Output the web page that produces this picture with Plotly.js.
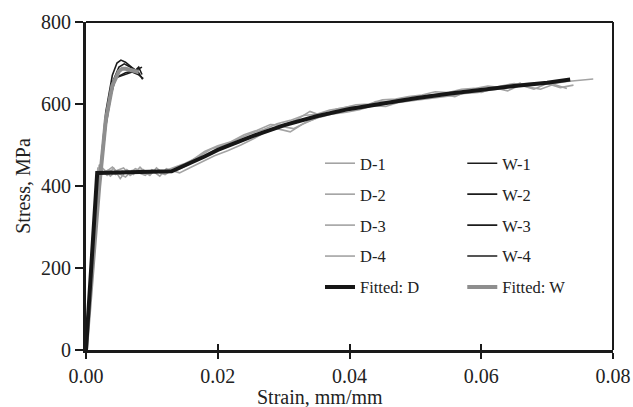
<!DOCTYPE html>
<html>
<head>
<meta charset="utf-8">
<script src="https://cdn.plot.ly/plotly-3.0.1.min.js"></script>
<style>html,body{margin:0;padding:0;background:#fff;}#chart{width:633px;height:407px;}</style>
</head>
<body>
<div id="chart"></div>
<script>
// ---- Data (strain in mm/mm, stress in MPa) ----
const d1Strain = [0,0.0010,0.0018,0.0025,0.0035,0.0045,0.0055,0.0065,0.0075,0.0085,0.0095,0.0105,0.0115,0.0125,0.0135,0.015,0.017,0.019,0.021,0.023,0.025,0.027,0.029,0.031,0.033,0.035,0.037,0.039,0.041,0.043,0.045,0.047,0.049,0.051,0.053,0.055,0.057,0.059,0.061,0.063,0.065,0.067,0.069,0.071,0.073,0.075,0.077];
const d1Stress = [0,220,445,432,440,428,436,430,442,434,428,438,432,440,446,455,470,490,500,515,528,538,552,560,572,575,585,590,598,600,610,612,618,622,630,628,636,638,644,640,648,650,652,650,655,658,661];
const d2Strain = [0,0.0009,0.0017,0.0024,0.0032,0.0042,0.0052,0.0062,0.0072,0.0082,0.0092,0.0102,0.0112,0.0122,0.0132,0.0145,0.016,0.018,0.020,0.022,0.024,0.026,0.028,0.030,0.032,0.034,0.036,0.038,0.040,0.042,0.044,0.046,0.048,0.050,0.052,0.054,0.056,0.058,0.060,0.062,0.064,0.066,0.068,0.070,0.072,0.074];
const d2Stress = [0,190,420,438,426,444,418,440,428,446,430,436,424,442,436,448,462,484,498,508,525,536,550,548,562,582,570,588,594,590,606,604,614,610,622,624,618,632,628,640,632,646,636,650,640,646];
const d3Strain = [0,0.0010,0.0020,0.0027,0.0037,0.0047,0.0057,0.0067,0.0077,0.0087,0.0097,0.0107,0.0117,0.0127,0.014,0.0155,0.017,0.019,0.021,0.023,0.025,0.027,0.029,0.031,0.033,0.035,0.037,0.039,0.041,0.043,0.045,0.047,0.049,0.051,0.053,0.055,0.057,0.059,0.061,0.063,0.065,0.067,0.069,0.071,0.073];
const d3Stress = [0,205,452,440,424,438,444,426,436,440,426,444,430,436,440,452,466,478,496,504,520,530,540,532,552,566,578,584,590,598,600,608,610,616,620,626,630,632,636,644,650,642,636,648,638];
const d4Strain = [0,0.0011,0.0021,0.0030,0.0040,0.0050,0.0060,0.0070,0.0080,0.0090,0.0100,0.0110,0.0120,0.0130,0.0142,0.0157,0.0175,0.0195,0.0215,0.0235,0.0255,0.0275,0.0295,0.0315,0.0335,0.0355,0.0375,0.0395,0.0415,0.0435,0.0455,0.0475,0.0495,0.0515,0.0535,0.0555,0.0575,0.0595,0.0615,0.0635,0.0655,0.066];
const d4Stress = [0,215,428,434,446,430,422,438,432,426,440,434,428,438,432,444,458,474,486,500,516,534,546,540,556,568,576,580,586,596,594,604,608,612,616,620,626,628,634,638,648,652];

const w1Strain = [0,0.0010,0.0020,0.0030,0.0040,0.0047,0.0053,0.0060,0.0068,0.0075,0.0080,0.0085];
const w1Stress = [0,200,410,580,670,700,707,702,692,682,690,672];
const w2Strain = [0,0.0010,0.0020,0.0030,0.0040,0.0050,0.0058,0.0065,0.0072,0.0080,0.0086];
const w2Stress = [0,198,400,562,652,690,698,692,686,676,660];
const w3Strain = [0,0.0010,0.0020,0.0030,0.0038,0.0045,0.0052,0.0060,0.0070,0.0078,0.0085];
const w3Stress = [0,195,392,545,622,664,670,676,680,684,690];
const w4Strain = [0,0.0010,0.0020,0.0030,0.0040,0.0045,0.0050,0.0060,0.0070,0.0080,0.0087];
const w4Stress = [0,200,396,556,642,664,667,672,678,671,662];

const fitDStrain = [0,0.0017,0.013,0.015,0.018,0.020,0.025,0.030,0.035,0.040,0.045,0.050,0.055,0.060,0.065,0.070,0.0735];
const fitDStress = [0,432,436,450,472,488,520,548,570,588,602,614,625,635,644,652,660];
const fitWStrain = [0,0.0010,0.0020,0.0030,0.0040,0.0050,0.0055,0.0060,0.0070,0.0080];
const fitWStress = [0,198,398,560,645,680,686,686,682,678];

const xTickVals = [0,0.02,0.04,0.06,0.08];
const xTickText = ['0.00','0.02','0.04','0.06','0.08'];
const yTickVals = [0,200,400,600,800];

// ---- Styles ----
const grayD = '#a3a3a3';
const blackW = '#1c1c1c';
const font = 'Liberation Serif, Times New Roman, serif';

function tr(name, x, y, color, width, legend, group) {
  return {x: x, y: y, name: name, type: 'scatter', mode: 'lines',
    line: {color: color, width: width}, legend: legend, legendgroup: group};
}

const traces = [
  tr('D-1', d1Strain, d1Stress, grayD, 1.6, 'legend', 'g1'),
  tr('D-2', d2Strain, d2Stress, grayD, 1.6, 'legend', 'g2'),
  tr('D-3', d3Strain, d3Stress, grayD, 1.6, 'legend', 'g3'),
  tr('D-4', d4Strain, d4Stress, grayD, 1.6, 'legend', 'g4'),
  tr('W-1', w1Strain, w1Stress, blackW, 1.6, 'legend2', 'h1'),
  tr('W-2', w2Strain, w2Stress, blackW, 1.6, 'legend2', 'h2'),
  tr('W-3', w3Strain, w3Stress, blackW, 1.6, 'legend2', 'h3'),
  tr('W-4', w4Strain, w4Stress, blackW, 1.6, 'legend2', 'h4'),
  tr('Fitted: W', fitWStrain, fitWStress, '#8e8e8e', 4, 'legend2', 'h5'),
  tr('Fitted: D', fitDStrain, fitDStress, '#161616', 4, 'legend', 'g5'),
];
// dummy trace so the overlaid x axis draws inward tick marks
traces.push({x: [0.04], y: [0], xaxis: 'x2', type: 'scatter', mode: 'none', showlegend: false, hoverinfo: 'skip'});

const legendBase = {
  bgcolor: 'rgba(0,0,0,0)', font: {family: font, size: 16.5, color: '#222'},
  tracegroupgap: 6.5, traceorder: 'grouped', itemwidth: 30,
  xanchor: 'left', yanchor: 'top', y: 0.622
};

const layout = {
  width: 633, height: 407,
  margin: {l: 86, r: 20, t: 22, b: 57},
  paper_bgcolor: '#fff', plot_bgcolor: '#fff',
  font: {family: font, size: 20, color: '#222'},
  showlegend: true,
  legend: Object.assign({}, legendBase, {x: 0.444}),
  legend2: Object.assign({}, legendBase, {x: 0.714}),
  xaxis: {
    range: [0, 0.08], tickvals: xTickVals, ticktext: xTickText,
    showgrid: false, zeroline: false, showline: true, linewidth: 3, linecolor: '#1a1a1a',
    ticks: 'outside', ticklen: 6, tickwidth: 2, tickcolor: '#1a1a1a',
    tickfont: {family: font, size: 20, color: '#222'}
  },
  xaxis2: {
    overlaying: 'x', range: [0, 0.08], tickvals: xTickVals, showticklabels: false,
    showgrid: false, zeroline: false, showline: false,
    ticks: 'inside', ticklen: 6, tickwidth: 2, tickcolor: '#1a1a1a', side: 'bottom'
  },
  yaxis: {
    range: [0, 800], tickvals: yTickVals,
    showgrid: false, zeroline: false, showline: true, linewidth: 3, linecolor: '#1a1a1a',
    ticks: 'outside', ticklen: 8, tickwidth: 2, tickcolor: '#1a1a1a',
    tickfont: {family: font, size: 20, color: '#222'},
    title: {text: 'Stress, MPa', font: {family: font, size: 20, color: '#222'}, standoff: 6}
  },
  shapes: [
    {type: 'line', xref: 'paper', yref: 'paper', x0: 0, x1: 1, y0: 1, y1: 1, line: {color: '#1a1a1a', width: 2}},
    {type: 'line', xref: 'paper', yref: 'paper', x0: 1, x1: 1, y0: 0, y1: 1, line: {color: '#1a1a1a', width: 2}}
  ],
  annotations: [
    {text: 'Strain, mm/mm', xref: 'paper', yref: 'paper', x: 0.444, y: -0.143,
     xanchor: 'center', yanchor: 'middle', showarrow: false,
     font: {family: font, size: 20, color: '#222'}}
  ]
};

Plotly.newPlot('chart', traces, layout, {displayModeBar: false, staticPlot: true});
</script>
</body>
</html>
